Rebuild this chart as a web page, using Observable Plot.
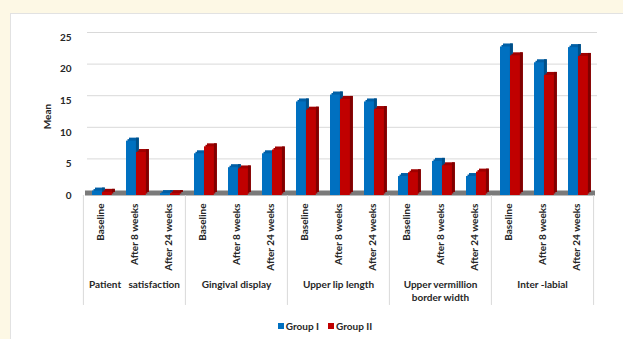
<!DOCTYPE html>
<html><head><meta charset="utf-8">
<script src="https://cdn.jsdelivr.net/npm/d3@7"></script>
<script src="https://cdn.jsdelivr.net/npm/@observablehq/plot@0.6"></script>
<style>
html,body{margin:0;padding:0;background:#fdf8e5;width:623px;height:339px;overflow:hidden;}
#panel{position:absolute;left:10px;top:13px;width:613px;height:326px;background:#fff;border-left:1px solid #e2e2e2;border-top:1px solid #e2e2e2;box-sizing:border-box;}
#chart{position:absolute;left:0;top:0;}
#legend{position:absolute;top:306px;left:8px;width:100%;display:flex;justify-content:center;gap:9px;font:bold 10px Lato,sans-serif;color:#262626;}
#legend span.item{display:flex;align-items:center;gap:2px;}
#legend span.sw{display:inline-block;width:6px;height:6px;}
</style></head><body>
<div id="panel"><div id="chart"></div><div id="legend"></div></div>
<script>
const measures = ["Patient   satisfaction","Gingival display","Upper lip length","Upper vermillion\nborder width","Inter -labial"];
const times = ["Baseline","After 8 weeks","After 24 weeks"];
const groups = ["Group I","Group II"];
const groupI  = [0.7, 8.6, 0.3,  6.6, 4.4, 6.6,  14.8, 15.9, 14.8,  3.0, 5.4, 3.0,  23.5, 21.0, 23.4];
const groupII = [0.5, 6.8, 0.3,  7.7, 4.2, 7.2,  13.5, 15.2, 13.6,  3.6, 4.7, 3.7,  22.1, 19.0, 22.0];
const yTicks = [0, 5, 10, 15, 20, 25];
const colors = ["#0070c0", "#c00000"];
const sideColors = ["#004f88", "#800000"];
const topColors = ["#005fa6", "#a00000"];

const rows = [];
measures.forEach((m, i) => times.forEach((t, j) => {
  rows.push({measure: m, time: t, group: groups[0], value: groupI[i * 3 + j]});
  rows.push({measure: m, time: t, group: groups[1], value: groupII[i * 3 + j]});
}));
const gI = rows.filter(d => d.group === groups[0]);
const gII = rows.filter(d => d.group === groups[1]);

const W = 612, ML = 70, MR = 29;
const bw = (W - ML - MR) / measures.length / times.length;
const sepBottom = -17.4;
const D = 3; // depth of the 3-D effect in px

function bar3d(data, k, left) {
  const right = bw - left - 10;
  const common = {fx: "measure", x: "time", y: "value", dx: 2};
  return [
    // top face (shifted copy)
    Plot.barY(data, {...common, fill: topColors[k], insetLeft: left + 1.5, insetRight: right - 1.5, dy: -D + 1.5}),
    Plot.barY(data, {...common, fill: topColors[k], insetLeft: left + D, insetRight: right - D, dx: 2, dy: -D}),
    // side face
    Plot.barY(data, {...common, fill: sideColors[k], insetLeft: left + 10, insetRight: right - D, dy: -D}),
    // front face
    Plot.barY(data, {...common, fill: colors[k], insetLeft: left, insetRight: right})
  ];
}

const plot = Plot.plot({
  width: W, height: 300,
  marginLeft: ML, marginRight: MR, marginTop: 23, marginBottom: 119,
  style: {fontFamily: "Lato, sans-serif", fontSize: "10px", fontWeight: "bold", color: "#262626", background: "transparent"},
  fx: {domain: measures, padding: 0},
  x: {domain: times, padding: 0},
  y: {domain: [0, 25], ticks: yTicks},
  marks: [
    Plot.ruleY(yTicks.filter(d => d > 0), {stroke: "#d9d9d9", dx: 4, dy: -5}),
    Plot.ruleY([0], {stroke: "#7a7a7a", strokeWidth: 5, dx: 2, dy: -2.5}),
    Plot.ruleX(measures, {fx: d => d, x: () => times[0], y1: 0, y2: sepBottom, dx: -bw / 2, stroke: "#d9d9d9"}),
    Plot.ruleX([measures[measures.length - 1]], {fx: d => d, x: () => times[2], y1: 0, y2: sepBottom, dx: bw / 2, stroke: "#d9d9d9"}),
    ...bar3d(gI, 0, 7),
    ...bar3d(gII, 1, 17),
    Plot.axisY(yTicks, {tickSize: 0, tickPadding: 12, label: "Mean", labelAnchor: "center", labelOffset: 40, labelArrow: "none"}),
    Plot.axisX({tickRotate: -90, tickSize: 0, tickPadding: 8, label: null}),
    Plot.axisFx({anchor: "bottom", tickSize: 0, tickPadding: 83, label: null, lineHeight: 1.3})
  ]
});
document.getElementById("chart").appendChild(plot);

const legend = document.getElementById("legend");
groups.forEach((g, i) => {
  const item = document.createElement("span");
  item.className = "item";
  const sw = document.createElement("span");
  sw.className = "sw";
  sw.style.background = colors[i];
  item.appendChild(sw);
  item.appendChild(document.createTextNode(g));
  legend.appendChild(item);
});
</script>
</body></html>
